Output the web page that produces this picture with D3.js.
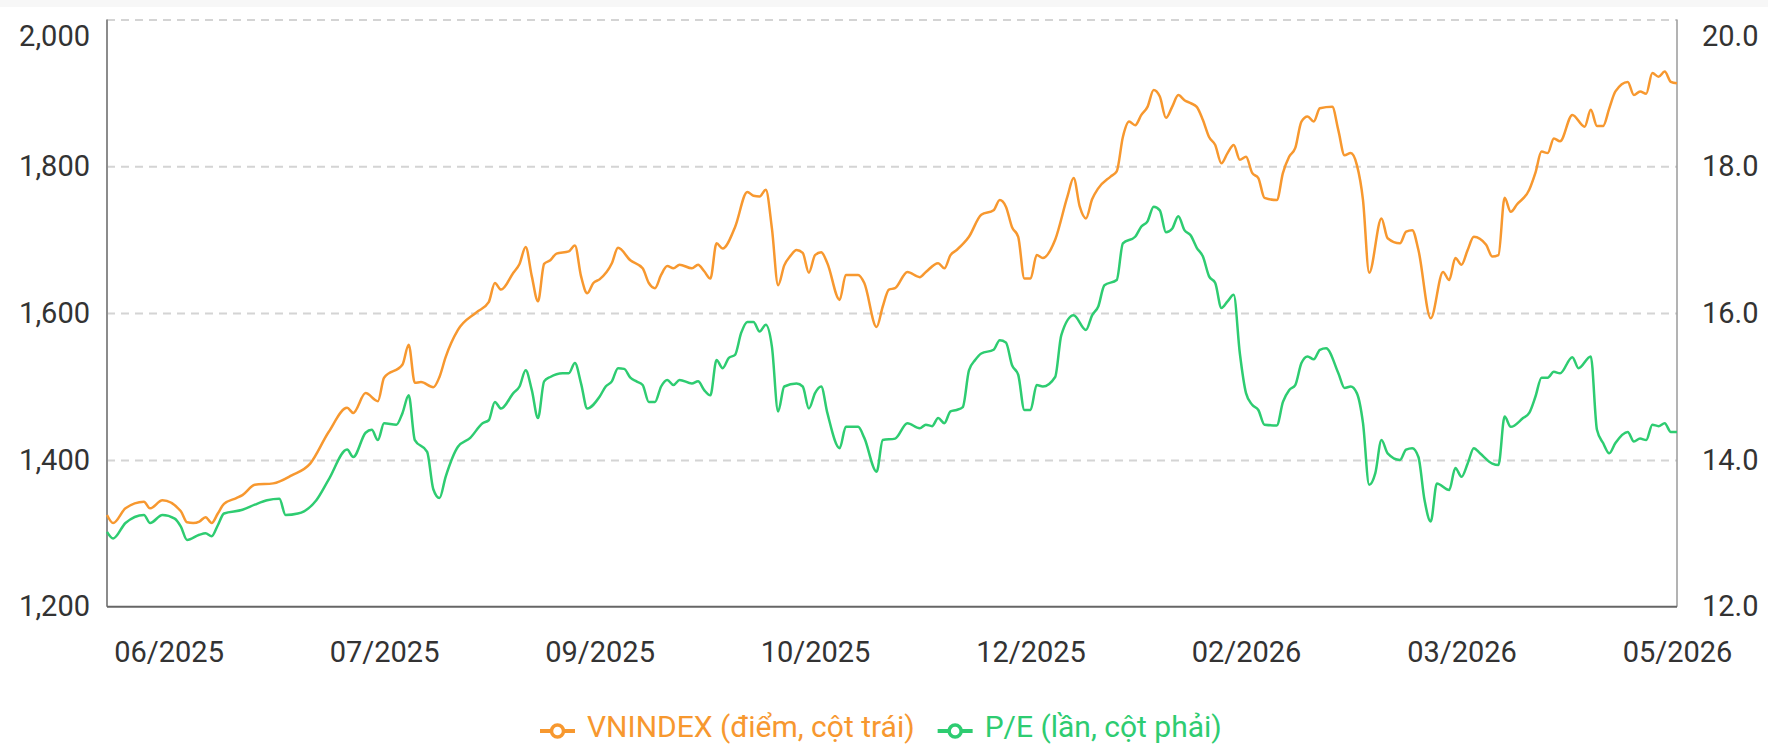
<!DOCTYPE html>
<html>
<head>
<meta charset="utf-8">
<script src="https://cdn.jsdelivr.net/npm/d3@7"></script>
<style>
  body { margin: 0; background: #fff; }
  svg { display: block; font-family: Roboto, "Noto Sans", sans-serif; }
</style>
</head>
<body>
<div id="root"></div>
<script>
// x axis: trading-day index, labelled every 35 sessions
const tickDays = [10, 45, 80, 115, 150, 185, 220, 255];
const tickLabels = ['06/2025', '07/2025', '09/2025', '10/2025', '12/2025', '02/2026', '03/2026', '05/2026'];
const vnTicks = [1200, 1400, 1600, 1800, 2000];
const peTicks = [12, 14, 16, 18, 20];

// [session, VNINDEX points]
const vnindex = [[0,1325],[1,1314],[3,1334],[6,1343],[7,1334],[9,1345],[12,1330],[13,1315],[14,1314],[15,1316],[16,1322],[17,1314],[18,1327],[19,1340],[21,1348],[22,1352],[24,1366],[27,1368],[30,1379],[33,1395],[36,1438],[39,1471],[40,1464],[42,1491],[44,1480],[45,1512],[48,1530],[49,1557],[50,1505],[51,1506],[53,1499],[54,1513],[55,1540],[57,1577],[60,1601],[62,1615],[63,1641],[64,1632],[66,1655],[67,1667],[68,1690],[69,1650],[70,1616],[71,1667],[72,1672],[73,1681],[75,1684],[76,1692],[77,1650],[78,1627],[79,1641],[80,1646],[82,1668],[83,1689],[85,1672],[87,1661],[88,1641],[89,1634],[90,1652],[91,1664],[92,1661],[93,1666],[95,1661],[96,1666],[97,1657],[98,1647],[99,1695],[100,1688],[102,1717],[104,1765],[105,1760],[106,1759],[107,1768],[108,1715],[109,1638],[110,1665],[111,1678],[112,1686],[113,1682],[114,1655],[115,1679],[116,1683],[117,1668],[119,1618],[120,1652],[122,1652],[123,1641],[125,1581],[126,1609],[127,1632],[128,1634],[130,1656],[132,1649],[133,1656],[135,1668],[136,1661],[137,1679],[138,1686],[140,1704],[142,1734],[144,1740],[145,1754],[146,1745],[147,1717],[148,1704],[149,1647],[150,1647],[151,1679],[152,1675],[154,1700],[156,1759],[157,1784],[158,1745],[159,1729],[160,1755],[161,1770],[163,1786],[164,1793],[165,1840],[166,1861],[167,1856],[168,1870],[169,1881],[170,1904],[171,1895],[172,1866],[173,1881],[174,1897],[175,1890],[176,1886],[177,1881],[178,1863],[179,1840],[180,1829],[181,1804],[182,1818],[183,1829],[184,1809],[185,1813],[186,1791],[187,1784],[188,1757],[190,1754],[191,1791],[192,1813],[193,1825],[194,1861],[195,1868],[196,1861],[197,1879],[199,1881],[200,1849],[201,1815],[202,1818],[203,1802],[204,1754],[205,1655],[207,1729],[208,1702],[210,1695],[211,1711],[212,1713],[213,1686],[215,1593],[217,1656],[218,1645],[219,1675],[220,1666],[221,1686],[222,1704],[224,1693],[225,1677],[226,1679],[227,1757],[228,1738],[229,1748],[231,1768],[232,1791],[233,1820],[234,1818],[235,1838],[236,1834],[238,1870],[240,1854],[241,1877],[242,1855],[243,1855],[244,1879],[245,1902],[247,1915],[248,1897],[249,1902],[250,1899],[251,1927],[252,1922],[253,1929],[254,1915],[255,1913]];

// [session, P/E]
const pe = [[0,13.02],[1,12.93],[3,13.14],[6,13.25],[7,13.14],[9,13.25],[11,13.20],[12,13.09],[13,12.91],[15,12.98],[16,13.00],[17,12.96],[18,13.11],[19,13.27],[22,13.32],[24,13.39],[26,13.45],[28,13.47],[29,13.25],[31,13.27],[32,13.30],[34,13.45],[36,13.73],[39,14.14],[40,14.04],[42,14.37],[43,14.41],[44,14.27],[45,14.50],[47,14.48],[48,14.64],[49,14.88],[50,14.27],[52,14.11],[53,13.60],[54,13.48],[55,13.77],[57,14.18],[59,14.30],[61,14.50],[62,14.54],[63,14.79],[64,14.70],[66,14.91],[67,15.00],[68,15.22],[69,14.95],[70,14.57],[71,15.07],[72,15.13],[74,15.18],[75,15.18],[76,15.32],[77,15.04],[78,14.70],[80,14.86],[81,15.00],[82,15.07],[83,15.25],[84,15.24],[85,15.12],[86,15.07],[87,15.02],[88,14.79],[89,14.79],[90,15.00],[91,15.09],[92,15.02],[93,15.09],[95,15.04],[96,15.07],[97,14.95],[98,14.88],[99,15.36],[100,15.25],[101,15.39],[102,15.43],[103,15.73],[104,15.88],[105,15.88],[106,15.75],[107,15.84],[108,15.54],[109,14.66],[110,15.00],[112,15.04],[113,15.00],[114,14.70],[115,14.91],[116,15.00],[117,14.64],[119,14.16],[120,14.45],[122,14.45],[123,14.30],[125,13.84],[126,14.27],[128,14.29],[130,14.50],[132,14.43],[133,14.48],[134,14.46],[135,14.57],[136,14.50],[137,14.66],[138,14.68],[139,14.72],[140,15.22],[141,15.36],[142,15.45],[144,15.50],[145,15.63],[146,15.60],[147,15.29],[148,15.16],[149,14.68],[150,14.68],[151,15.02],[152,15.00],[154,15.13],[155,15.70],[157,15.97],[159,15.77],[160,15.97],[161,16.09],[162,16.38],[164,16.45],[165,16.95],[167,17.04],[168,17.18],[169,17.25],[170,17.45],[171,17.40],[172,17.10],[173,17.15],[174,17.32],[175,17.13],[176,17.06],[177,16.89],[178,16.77],[179,16.50],[180,16.41],[181,16.07],[182,16.16],[183,16.25],[184,15.45],[185,14.91],[186,14.75],[187,14.68],[188,14.48],[190,14.47],[191,14.79],[192,14.95],[193,15.02],[194,15.32],[195,15.41],[196,15.37],[197,15.50],[198,15.52],[200,15.18],[201,14.98],[202,15.00],[203,14.91],[204,14.50],[205,13.66],[206,13.82],[207,14.27],[208,14.09],[210,14.00],[211,14.14],[212,14.16],[213,14.04],[214,13.45],[215,13.16],[216,13.68],[218,13.59],[219,13.89],[220,13.77],[221,13.95],[222,14.16],[223,14.09],[225,13.95],[226,13.93],[227,14.59],[228,14.45],[230,14.57],[231,14.64],[232,14.86],[233,15.12],[234,15.12],[235,15.20],[236,15.18],[238,15.40],[239,15.25],[241,15.41],[242,14.41],[243,14.23],[244,14.09],[245,14.23],[247,14.38],[248,14.25],[249,14.29],[250,14.27],[251,14.48],[252,14.46],[253,14.50],[254,14.38],[255,14.38]];

const seriesNames = ['VNINDEX (điểm, cột trái)', 'P/E (lần, cột phải)'];
const colors = ['#f7982f', '#2ecc71'];

const width = 1768;
const height = 744;
const plotLeft = 107, plotRight = 1677, plotTop = 19.5, plotBottom = 606.7;

const svg = d3.select('#root')
  .append('svg')
  .attr('width', width)
  .attr('height', height);

svg.append('rect').attr('width', width).attr('height', 7).attr('fill', '#f7f7f7');

const x = d3.scaleLinear().domain([0, 255]).range([plotLeft, plotRight]);
const yL = d3.scaleLinear().domain([1200, 2000]).range([plotBottom, plotTop]);
const yR = d3.scaleLinear().domain([12, 20]).range([plotBottom, plotTop]);

// dashed grid
const grid = svg.append('g')
  .attr('transform', `translate(${plotLeft},0)`)
  .call(d3.axisLeft(yL).tickValues(vnTicks.slice(1)).tickSize(-(plotRight - plotLeft)).tickFormat(''));
grid.select('.domain').remove();
grid.selectAll('line')
  .attr('stroke', '#d4d4d4')
  .attr('stroke-width', 2)
  .attr('stroke-dasharray', '8,6');

// axis lines
svg.append('line').attr('x1', plotLeft).attr('x2', plotLeft).attr('y1', plotTop).attr('y2', plotBottom)
  .attr('stroke', '#8c8c8c').attr('stroke-width', 2);
svg.append('line').attr('x1', plotRight).attr('x2', plotRight).attr('y1', plotTop).attr('y2', plotBottom)
  .attr('stroke', '#9a9a9a').attr('stroke-width', 1.5);
svg.append('line').attr('x1', plotLeft).attr('x2', plotRight).attr('y1', plotBottom).attr('y2', plotBottom)
  .attr('stroke', '#666').attr('stroke-width', 2);

const styleAxis = g => {
  g.select('.domain').remove();
  g.attr('font-family', 'Roboto, sans-serif').attr('font-size', 29);
  g.selectAll('text').attr('fill', '#333');
};

// left axis
svg.append('g')
  .attr('transform', `translate(${plotLeft},0)`)
  .call(d3.axisLeft(yL).tickValues(vnTicks).tickSize(0).tickPadding(17).tickFormat(d3.format(',')))
  .call(styleAxis)
  .selectAll('text').filter(d => d === 2000).attr('y', 17);

// right axis
svg.append('g')
  .attr('transform', `translate(${plotRight},0)`)
  .call(d3.axisRight(yR).tickValues(peTicks).tickSize(0).tickPadding(25).tickFormat(d3.format('.1f')))
  .call(styleAxis)
  .selectAll('text').filter(d => d === 20).attr('y', 17);

// bottom axis
svg.append('g')
  .attr('transform', `translate(0,${plotBottom})`)
  .call(d3.axisBottom(x).tickValues(tickDays).tickSize(0).tickPadding(35)
    .tickFormat((d, i) => tickLabels[i]))
  .call(styleAxis);

// lines
const lineVn = d3.line().x(d => x(d[0])).y(d => yL(d[1])).curve(d3.curveMonotoneX);
const linePe = d3.line().x(d => x(d[0])).y(d => yR(d[1])).curve(d3.curveMonotoneX);

svg.append('path').datum(vnindex)
  .attr('d', lineVn).attr('fill', 'none')
  .attr('stroke', colors[0]).attr('stroke-width', 2.5).attr('stroke-linejoin', 'round');
svg.append('path').datum(pe)
  .attr('d', linePe).attr('fill', 'none')
  .attr('stroke', colors[1]).attr('stroke-width', 2.5).attr('stroke-linejoin', 'round');

// legend
const legend = svg.append('g').attr('transform', 'translate(540,731)');
let lx = 0;
seriesNames.forEach((name, i) => {
  const item = legend.append('g').attr('transform', `translate(${lx},0)`);
  item.append('line').attr('x1', 0).attr('x2', 35).attr('y1', 0).attr('y2', 0)
    .attr('stroke', colors[i]).attr('stroke-width', 4);
  item.append('circle').attr('cx', 17.5).attr('cy', 0).attr('r', 6)
    .attr('fill', '#fff').attr('stroke', colors[i]).attr('stroke-width', 3.5);
  const t = item.append('text').attr('x', 47).attr('y', 6)
    .attr('font-size', 30).attr('fill', colors[i]).text(name);
  lx += 47 + t.node().getComputedTextLength() + 23;
});
</script>
</body>
</html>
